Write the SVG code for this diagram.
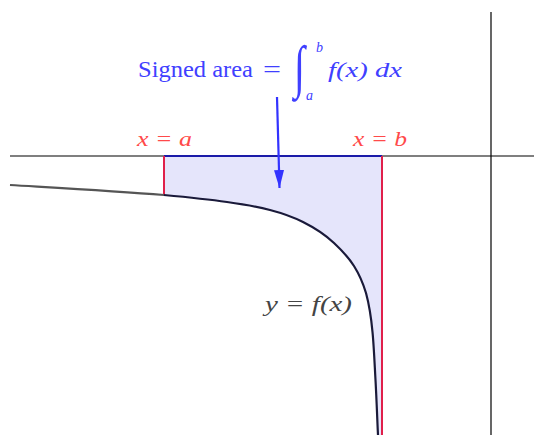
<svg xmlns="http://www.w3.org/2000/svg" width="534" height="435" viewBox="0 0 534 435">
<style>
.axis{stroke:#000;stroke-width:1.2;fill:none}
.redline{stroke:#e0204a;stroke-width:2;fill:none}
.curve{fill:none;stroke:#1a1a3a;stroke-width:2.2}
.curveL{fill:none;stroke:#555;stroke-width:2.2}
text{font-family:"Liberation Serif","Times New Roman",serif}
.it{font-style:italic}
.lbl{font-size:22px}
.red{fill:#ff4a4a}
.blue{fill:#4040ff}
.gray{fill:#444}
</style>
<defs>
<marker id="ah" viewBox="0 0 18 10" refX="18" refY="5" markerWidth="18" markerHeight="10" markerUnits="userSpaceOnUse" orient="auto">
<path d="M0,0 L18,5 L0,10 Z" fill="#3333ff"/>
</marker>
</defs>
<rect width="534" height="435" fill="#fff"/>
<g id="area">
<path d="M164,195 C185.2,197 209.3,199.5 227,202 C244.7,204.5 257.3,206.7 270,210 C282.7,213.3 293,217 303,222 C314,227.5 325,234.5 334,243 C342,250.5 349,258 354,266 C359,274 363,283 366,293 C369,304 371,316 372.5,332 C373.8,345 374.5,362 375.5,380 C376.5,397.5 377.5,425.8 378,435 L382,435 L382,156 L164,156 Z" fill="#e5e5fb"/>
</g>
<g id="axes">
<line class="axis" x1="10" y1="156" x2="534" y2="156"/>
<line class="axis" x1="491" y1="12" x2="491" y2="435"/>
</g>
<g id="connectors">
<line x1="164" y1="156" x2="382" y2="156" stroke="#1a1aa8" stroke-width="1.8"/>
<line class="redline" x1="164" y1="156" x2="164" y2="196"/>
<line class="redline" x1="382" y1="156" x2="382" y2="435"/>
<line x1="277" y1="97" x2="279.5" y2="188" stroke="#3333ff" stroke-width="2.2" marker-end="url(#ah)"/>
</g>
<g id="curve">
<path class="curveL" d="M10,185 C60,188 115,191 164,195"/>
<path class="curve" d="M164,195 C185.2,197 209.3,199.5 227,202 C244.7,204.5 257.3,206.7 270,210 C282.7,213.3 293,217 303,222 C314,227.5 325,234.5 334,243 C342,250.5 349,258 354,266 C359,274 363,283 366,293 C369,304 371,316 372.5,332 C373.8,345 374.5,362 375.5,380 C376.5,397.5 377.5,425.8 378,435"/>
</g>
<g id="label-a"><text class="lbl red it" x="137" y="146" textLength="55" lengthAdjust="spacingAndGlyphs">x = a</text></g>
<g id="label-b"><text class="lbl red it" x="353" y="146" textLength="54" lengthAdjust="spacingAndGlyphs">x = b</text></g>
<g id="label-f"><text class="lbl gray it" x="265" y="311" textLength="87" lengthAdjust="spacingAndGlyphs">y = f(x)</text></g>
<g id="label-area" class="blue">
<text x="138" y="77" font-size="23" textLength="115" lengthAdjust="spacingAndGlyphs">Signed area</text>
<text x="263" y="77" font-size="23" textLength="18" lengthAdjust="spacingAndGlyphs">=</text>
<text font-size="40" class="it" transform="translate(294,86) scale(1,1.45)">∫</text>
<text x="316" y="52" font-size="14" class="it">b</text>
<text x="306" y="100" font-size="14" class="it">a</text>
<text x="328" y="77" font-size="22" class="it" textLength="74" lengthAdjust="spacingAndGlyphs">f(x) dx</text>
</g>
</svg>
